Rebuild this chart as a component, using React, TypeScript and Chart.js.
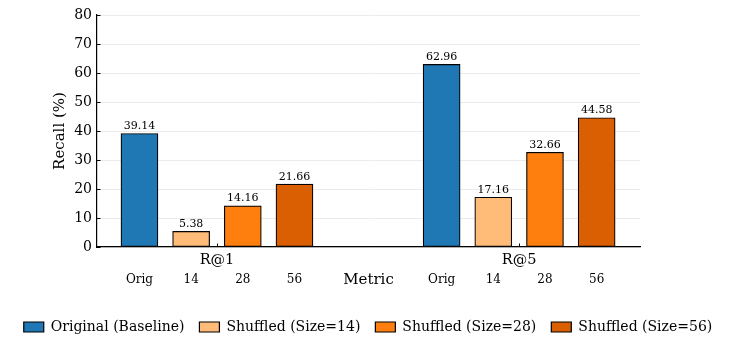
import React, { useEffect, useRef } from "react";
import { Chart, registerables } from "chart.js";

Chart.register(...registerables);

const metrics = ["R@1", "R@5"];
const seriesNames = [
  "Original (Baseline)",
  "Shuffled (Size=14)",
  "Shuffled (Size=28)",
  "Shuffled (Size=56)",
];
const subLabels = ["Orig", "14", "28", "56"];
const originalValues = [39.14, 62.96];
const size14Values = [5.38, 17.16];
const size28Values = [14.16, 32.66];
const size56Values = [21.66, 44.58];
const seriesColors = ["#1f77b4", "#ffbb78", "#ff7f0e", "#d95f02"];
const yTicks = [0, 10, 20, 30, 40, 50, 60, 70, 80];

const FONT = "'DejaVu Serif', serif";
const BAR_STEP = 0.171;

export default function App() {
  const ref = useRef<HTMLCanvasElement | null>(null);

  useEffect(() => {
    const canvas = ref.current;
    if (!canvas) return;
    const allValues = [originalValues, size14Values, size28Values, size56Values];

    const datasets = allValues.map((vals, si) => ({
      label: seriesNames[si],
      data: vals.map((v, mi) => ({ x: mi + (si - 1.5) * BAR_STEP, y: v })),
      backgroundColor: seriesColors[si],
      borderColor: "#000000",
      borderWidth: 1.2,
      borderSkipped: false as any,
      barThickness: 37,
      grouped: false,
      yAxisID: "y",
    }));

    const overlay = {
      id: "overlay",
      afterDatasetsDraw(chart: any) {
        const ctx = chart.ctx;
        const xs = chart.scales.x;
        const ys = chart.scales.y;
        const area = chart.chartArea;
        ctx.save();
        ctx.fillStyle = "#000";
        ctx.font = `11px ${FONT}`;
        ctx.textAlign = "center";
        ctx.textBaseline = "bottom";
        chart.data.datasets.forEach((ds: any, di: number) => {
          const meta = chart.getDatasetMeta(di);
          meta.data.forEach((el: any, i: number) => {
            ctx.fillText(ds.data[i].y.toFixed(2), el.x, el.y - 2);
          });
        });
        ctx.font = `12px ${FONT}`;
        ctx.textBaseline = "middle";
        metrics.forEach((_, mi) => {
          subLabels.forEach((s, si) => {
            const px = xs.getPixelForValue(mi + (si - 1.5) * BAR_STEP);
            ctx.fillText(s, px, area.bottom + 33);
          });
        });
        ctx.strokeStyle = "#000";
        ctx.lineWidth = 1;
        ctx.beginPath();
        yTicks.forEach((t) => {
          const py = Math.round(ys.getPixelForValue(t)) + 0.5;
          ctx.moveTo(area.left, py);
          ctx.lineTo(area.left + 3.5, py);
        });
        metrics.forEach((_, mi) => {
          const px = Math.round(xs.getPixelForValue(mi)) + 0.5;
          ctx.moveTo(px, area.bottom);
          ctx.lineTo(px, area.bottom - 3.5);
        });
        ctx.stroke();
        ctx.restore();
      },
    };

    const chart = new Chart(canvas, {
      type: "bar",
      data: { datasets: datasets as any },
      plugins: [overlay],
      options: {
        animation: false,
        responsive: false,
        maintainAspectRatio: false,
        layout: { padding: { left: 0, right: 0, top: 0, bottom: 0 } },
        plugins: {
          tooltip: { enabled: false },
          legend: {
            position: "bottom",
            labels: {
              font: { family: FONT, size: 14 },
              color: "#000",
              boxWidth: 20,
              boxHeight: 10,
              padding: 15,
            },
          },
        },
        scales: {
          x: {
            type: "linear",
            offset: false,
            min: -0.397,
            max: 1.4,
            afterFit: (s: any) => {
              s.height = 58;
            },
            afterBuildTicks: (s: any) => {
              s.ticks = metrics.map((_, i) => ({ value: i }));
            },
            ticks: {
              autoSkip: false,
              maxRotation: 0,
              padding: 5,
              color: "#000",
              font: { family: FONT, size: 14.5 },
              callback: (v: any) => metrics[Math.round(Number(v))] ?? "",
            },
            grid: { display: false, drawTicks: false },
            border: { display: true, color: "#000", width: 1.2 },
            title: {
              display: true,
              text: "Metric",
              color: "#000",
              font: { family: FONT, size: 15 },
              padding: { top: 0, bottom: 15.5 },
            },
          },
          y: {
            min: 0,
            max: 80,
            afterFit: (s: any) => {
              s.width = 89;
              s.paddingTop = 7;
              s.paddingBottom = 0;
            },
            afterBuildTicks: (s: any) => {
              s.ticks = yTicks.map((v) => ({ value: v }));
            },
            ticks: {
              padding: 5,
              color: "#000",
              font: { family: FONT, size: 14 },
            },
            grid: { color: "#ebebeb", drawTicks: false },
            border: { display: true, color: "#000", width: 1.2 },
            title: {
              display: true,
              text: "Recall (%)",
              color: "#000",
              font: { family: FONT, size: 15 },
              padding: { top: 43, bottom: 0 },
            },
          },
          yRight: {
            position: "right",
            display: true,
            min: 0,
            max: 80,
            afterFit: (s: any) => {
              s.width = 88;
              s.paddingTop = 7;
              s.paddingBottom = 0;
            },
            ticks: { display: false },
            grid: { display: false, drawTicks: false },
            border: { display: false },
          },
        },
      },
    });
    return () => chart.destroy();
  }, []);

  return (
    <div style={{ width: 720, height: 333, overflow: "hidden" }}>
      <canvas ref={ref} width={720} height={336} style={{ display: "block" }} />
    </div>
  );
}
